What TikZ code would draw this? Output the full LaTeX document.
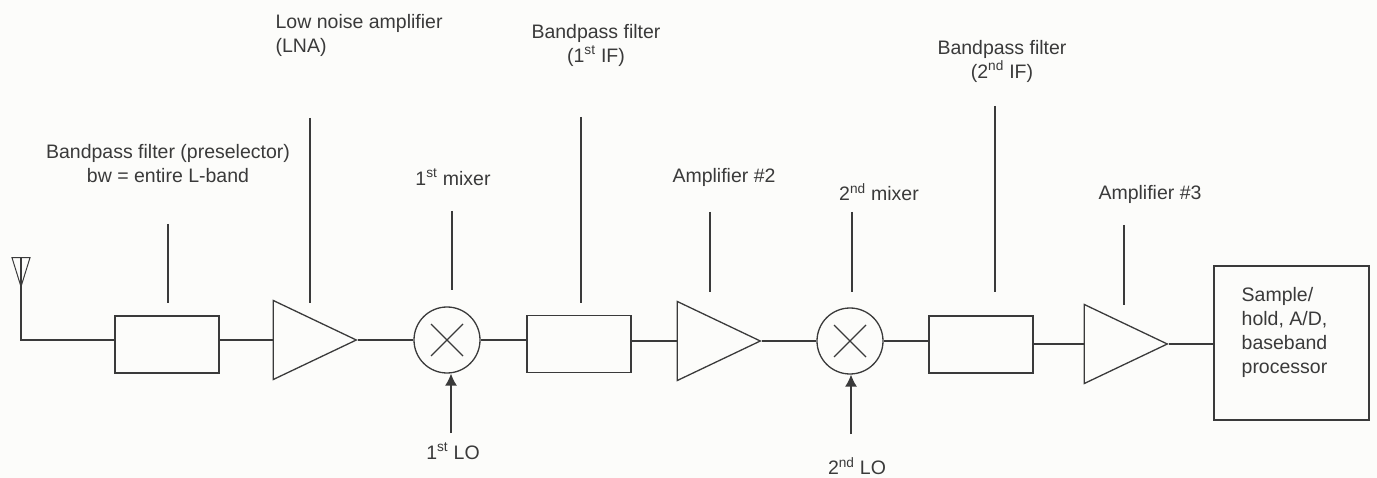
\documentclass[tikz,border=0pt]{standalone}
\usepackage{fontspec}
\setmainfont{Liberation Sans}
\usetikzlibrary{arrows.meta,shapes.geometric}
\definecolor{paper}{HTML}{FCFCFA}
\definecolor{ink}{HTML}{3A3A3A}
\tikzset{
  filterbox/.style={draw,minimum width=104pt,minimum height=57pt,inner sep=0pt},
  ampbox/.style={draw,isosceles triangle,isosceles triangle stretches,shape border rotate=0,minimum width=79pt,minimum height=83pt,inner sep=0pt,anchor=apex},
  mixerbox/.style={draw,circle,minimum size=66pt,inner sep=0pt,path picture={
    \draw ([shift={(-16pt,-16pt)}]path picture bounding box.center) -- ([shift={(16pt,16pt)}]path picture bounding box.center);
    \draw ([shift={(-16pt,16pt)}]path picture bounding box.center) -- ([shift={(16pt,-16pt)}]path picture bounding box.center);}},
  label/.style={align=center,inner sep=0pt}
}
\begin{document}
\begin{tikzpicture}[x=1pt,y=-1pt,line width=1.3pt,draw=ink,every node/.style={font=\fontsize{19.5}{24}\selectfont,text=ink}]
\fill[paper] (0,0) rectangle (1377,478);
\useasboundingbox (0,0) rectangle (1377,478);
\node[draw,isosceles triangle,isosceles triangle stretches,shape border rotate=270,minimum width=18pt,minimum height=29pt,inner sep=0pt,anchor=apex,line width=1pt] (ant) at (21,288) {};
\node[filterbox] (filta) at (167,344.5) {};
\node[ampbox] (ampa) at (358,340) {};
\node[mixerbox] (mixa) at (447,340) {};
\node[filterbox] (filtb) at (579,344) {};
\node[ampbox] (ampb) at (762,341) {};
\node[mixerbox] (mixb) at (850,341) {};
\node[filterbox] (filtc) at (981,344.5) {};
\node[ampbox] (ampc) at (1169,344) {};
\node[draw,minimum width=155pt,minimum height=154pt,inner sep=0pt] (proc) at (1291.5,343) {};
\node[label,anchor=west,align=left] (proctext) at (1241,332) {Sample/\\hold, A/D,\\baseband\\processor};
\draw (ant.apex) -- (ant.lower side);
\draw (ant.apex) |- (filta.west |- ampa.apex);
\draw (filta.east |- ampa.apex) -- (ampa.lower side);
\draw (ampa.apex) -- (mixa.west);
\draw (mixa.east) -- (filtb.west |- mixa.east);
\draw (filtb.east |- ampb.lower side) -- (ampb.lower side);
\draw (ampb.apex) -- (mixb.west);
\draw (mixb.east) -- (filtc.west |- mixb.east);
\draw (filtc.east |- ampc.lower side) -- (ampc.lower side);
\draw (ampc.apex) -- (proc.west |- ampc.apex);
\coordinate (loa) at (451,433);
\coordinate (lob) at (851,434);
\draw[-{Latex[length=12pt,width=12pt]}] (loa) -- (loa |- mixa.south);
\draw[-{Latex[length=12pt,width=12pt]}] (lob) -- (lob |- mixb.south);
\foreach \i/\x/\ya/\yb in {a/168/224/303,b/310/118/303,c/452/211/290,d/581/117/303,e/710/212/292,f/852/212/292,g/995/106/292,h/1124/225/305}{
  \coordinate (leadtop\i) at (\x,\ya);
  \coordinate (leadbot\i) at (\x,\yb);
  \draw (leadtop\i) -- (leadbot\i);
}
\node[label] (preselect) at (168,164) {Bandpass filter (preselector)\\bw = entire L-band};
\node[label,align=left,anchor=west] (lna) at (275,35) {Low noise amplifier\\(LNA)};
\node[label] (mixalabel) at (453,177) {1\textsuperscript{st} mixer};
\node[label] (iflabela) at (596,45) {Bandpass filter\\(1\textsuperscript{st} IF)};
\node[label] (amplabelb) at (724,177) {Amplifier \#2};
\node[label] (mixblabel) at (879,192) {2\textsuperscript{nd} mixer};
\node[label] (iflabelb) at (1002,61) {Bandpass filter\\(2\textsuperscript{nd} IF)};
\node[label] (amplabelc) at (1150,194) {Amplifier \#3};
\node[label] (loatext) at (453,451) {1\textsuperscript{st} LO};
\node[label] (lobtext) at (857,466) {2\textsuperscript{nd} LO};
\end{tikzpicture}
\end{document}
